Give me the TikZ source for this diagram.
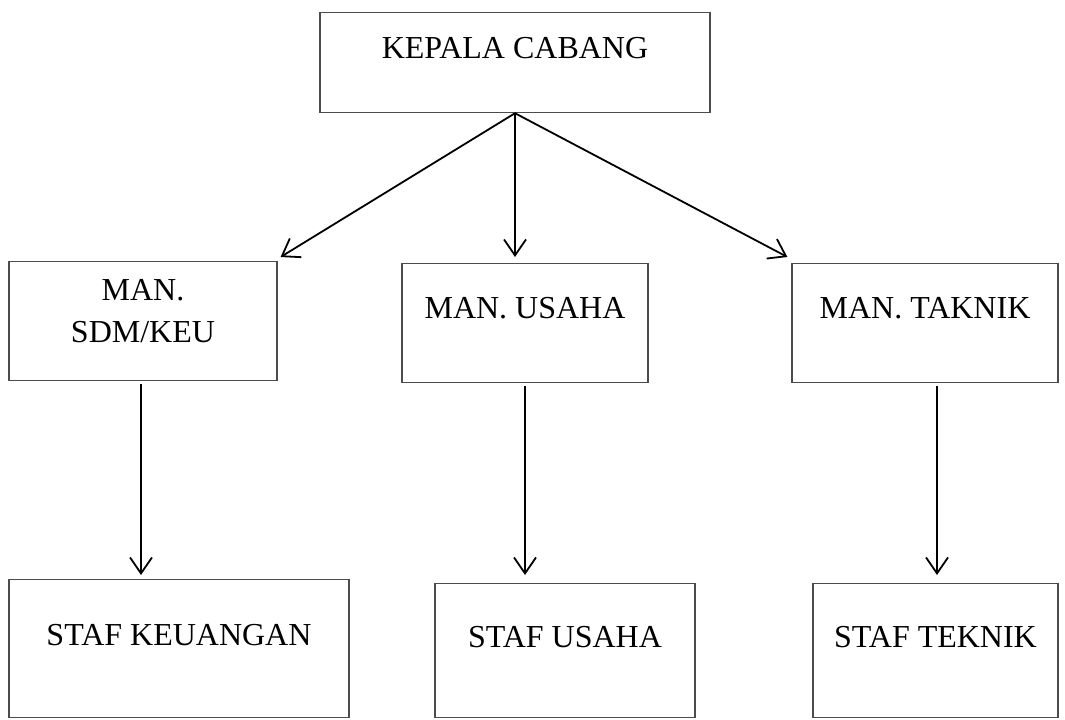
\documentclass[tikz,border=0pt]{standalone}
\usepackage{fontspec}
\setmainfont{Liberation Serif}
\usetikzlibrary{arrows.meta,calc}
\tikzset{
  jabatan/.style={draw=black!70, line width=0.6pt, inner sep=0pt, align=center, anchor=north,
    font=\fontsize{16}{21}\selectfont},
  panah/.style={-{Straight Barb[length=8pt,width=11pt,line width=0.9pt]}, line width=0.9pt}
}
\begin{document}
\begin{tikzpicture}[x=0.5pt,y=-0.5pt]
\useasboundingbox (0,0) rectangle (1065,719);
% pimpinan
\node[jabatan, minimum width=195pt, text height=22.75pt, text depth=27.25pt] (kc) at (515,12) {KEPALA CABANG};
% manajer
\node[jabatan, minimum width=134pt, text height=40.5pt, text depth=19pt] (msdm) at (143,261) {MAN.\\SDM/KEU};
\node[jabatan, minimum width=123pt, text height=27.5pt, text depth=32pt] (musaha) at (525,263) {MAN. USAHA};
\node[jabatan, minimum width=133pt, text height=27.5pt, text depth=32pt] (mtek) at (925,263) {MAN. TAKNIK};
% staf
\node[jabatan, minimum width=170pt, text height=33pt, text depth=36pt] (sk) at (179,579) {STAF KEUANGAN};
\node[jabatan, minimum width=130pt, text height=32pt, text depth=35pt] (su) at (565,583) {STAF USAHA};
\node[jabatan, minimum width=122.5pt, text height=32pt, text depth=35pt] (st) at (935.5,583) {STAF TEKNIK};
% garis komando
\draw[panah] (kc.south) -- ($(msdm.north east)+(3,-4)$);
\draw[panah] (kc.south) -- ($(kc.south |- musaha.north)+(0,-6)$);
\draw[panah] (kc.south) -- ($(mtek.north west)+(-4,-6)$);
\foreach \a/\b/\dx/\g in {msdm/sk/-1/2, musaha/su/0/4, mtek/st/6/4} {
  \path ([xshift=\dx pt, yshift=-1.5pt]\a.south) coordinate (s);
  \draw[panah, shorten >=\g pt] (s) -- (s |- \b.north);
}
\end{tikzpicture}
\end{document}
